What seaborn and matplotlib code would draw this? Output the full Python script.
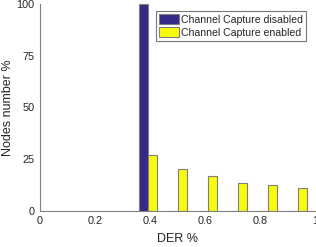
import matplotlib
matplotlib.use("Agg")
import matplotlib.pyplot as plt
import seaborn as sns
import pandas as pd

der = [0.393, 0.502, 0.611, 0.720, 0.829, 0.938]
disabled = [100, 0, 0, 0, 0, 0]
enabled = [26.9, 20.1, 16.8, 13.5, 12.5, 10.9]
series = ["Channel Capture disabled", "Channel Capture enabled"]
xticks = [0, 0.2, 0.4, 0.6, 0.8, 1]
yticks = [0, 25, 50, 75, 100]

sns.set_style("white")
plt.rcParams['font.family'] = ['Liberation Sans', 'DejaVu Sans']

rows = []
for x, d, e in zip(der, disabled, enabled):
    rows.append({"DER": x, "val": d, "s": series[0]})
    rows.append({"DER": x, "val": e, "s": series[1]})
df = pd.DataFrame(rows)

fig = plt.figure(figsize=(3.16, 2.47), dpi=100)
ax = fig.add_axes([0.1266, 0.146, 0.8704, 0.838])
sns.barplot(data=df, x="DER", y="val", hue="s", native_scale=True, width=0.6,
            palette=["#352A87", "#F9FB0E"], edgecolor="#7f7f7f", linewidth=0.8,
            saturation=1, ax=ax, errorbar=None)

ax.set_xlim(0, 1)
ax.set_ylim(0, 100)
ax.set_xticks(xticks)
ax.set_xticklabels([f"{t:g}" for t in xticks])
ax.set_yticks(yticks)
ax.set_xlabel("DER %", fontsize=9, color="#262626")
ax.set_ylabel("Nodes number %", fontsize=9, color="#262626")
ax.xaxis.set_label_coords(0.5, -0.105)
ax.yaxis.set_label_coords(-0.094, 0.5)
ax.tick_params(direction="in", length=3, width=0.6, colors="#262626", labelsize=7.8,
               pad=4)
for side in ["top", "right"]:
    ax.spines[side].set_visible(False)
for side in ["left", "bottom"]:
    ax.spines[side].set_color("#808080")
    ax.spines[side].set_linewidth(0.8)

leg = ax.legend(loc="upper right", bbox_to_anchor=(0.968, 0.965), fontsize=7.6,
                frameon=True, fancybox=False, edgecolor="#555555",
                handlelength=1.9, handleheight=1.1, handletextpad=0.2,
                borderpad=0.3, labelspacing=0.2, borderaxespad=0)
leg.get_frame().set_linewidth(0.8)

fig.savefig("out.png", dpi=100)
